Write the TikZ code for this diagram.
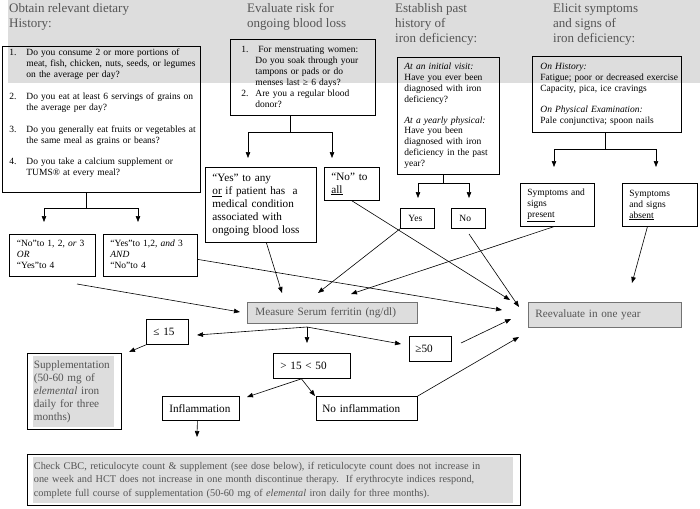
\documentclass[tikz,border=0pt]{standalone}
\usepackage{fontspec}
\setmainfont{Liberation Serif}
\usetikzlibrary{arrows.meta}
\definecolor{bandgray}{HTML}{DDDDDD}
\definecolor{textgray}{HTML}{555555}
\newcommand{\boxsmall}{\fontsize{9.5}{11}\selectfont}
\newcommand{\boxmid}{\fontsize{11.2}{13}\selectfont}
\newcommand{\boxhead}{\fontsize{13}{15}\selectfont}
\newcommand{\boxlines}[1]{\begin{tabular}{@{}l@{}}#1\end{tabular}}
\begin{document}
\begin{tikzpicture}[x=1pt,y=-1pt,
  box/.style n args={3}{draw,line width=0.8pt,anchor=north west,align=left,
    inner ysep=0pt,text width=#1,minimum height=#2,inner xsep=#3},
  graybox/.style={fill=bandgray,draw=black!55,text=textgray},
  shadebox/.style={text=textgray,path picture={\fill[bandgray]
    ([xshift=6pt,yshift=-3pt]path picture bounding box.north west) rectangle
    ([xshift=-7pt,yshift=2pt]path picture bounding box.south east);}},
  head/.style={anchor=north west,align=left,inner sep=0pt,text=textgray,font=\boxhead},
  ln/.style={line width=0.6pt},
  arr/.style={ln,-{Triangle[length=6pt,width=4.5pt]}}]
\useasboundingbox (0,0) rectangle (700,508);
\fill[bandgray] (8,0) rectangle (700,83);

% column heads
\node[head] (head1) at (9,3.5) {Obtain relevant dietary\\History:};
\node[head] (head2) at (247,3.5) {Evaluate risk for\\ongoing blood loss};
\node[head] (head3) at (395,3.5) {Establish past\\history of\\iron deficiency:};
\node[head] (head4) at (553,3.5) {Elicit symptoms\\and signs of\\iron deficiency:};

% question boxes
\node[box={184pt}{146pt}{7pt},font=\boxsmall] (diet) at (2,46) {%
  \begin{tabular}{@{}p{17pt}@{}l@{}}
  1. & Do you consume 2 or more portions of\\
     & meat, fish, chicken, nuts, seeds, or legumes\\
     & on the average per day?\\[10.5pt]
  2. & Do you eat at least 6 servings of grains on\\
     & the average per day?\\[10.5pt]
  3. & Do you generally eat fruits or vegetables at\\
     & the same meal as grains or beans?\\[10.5pt]
  4. & Do you take a calcium supplement or\\
     & TUMS® at every meal?\rule[-15pt]{0pt}{1pt}
  \end{tabular}};
\node[box={123pt}{76pt}{11pt},font=\boxsmall] (blood) at (230,39) {%
  \begin{tabular}{@{}p{14pt}@{}l@{}}
  1. & \hspace{3pt}For menstruating women:\\
     & Do you soak through your\\
     & tampons or pads or do\\
     & menses last ≥ 6 days?\\
  2. & Are you a regular blood\\
     & donor?
  \end{tabular}};
\node[box={88pt}{117pt}{7pt},font=\fontsize{9.5}{10.8}\selectfont] (past) at (397,57) {%
  \boxlines{\textit{At an initial visit:}\\ Have you ever been\\ diagnosed with iron\\
  deficiency?\\[10pt] \textit{At a yearly physical:}\\ Have you been\\
  diagnosed with iron\\ deficiency in the past\\ year?}};
\node[box={133pt}{76pt}{8pt},font=\boxsmall] (symp) at (532,56) {%
  \boxlines{\textit{On History:}\\ Fatigue; poor or decreased exercise\\
  Capacity, pica, ice cravings\\[10pt] \textit{On Physical Examination:}\\
  Pale conjunctiva; spoon nails}};

% answers
\node[box={71pt}{42pt}{7.5pt},font=\boxsmall] (noA) at (9,234)
  {\boxlines{“No”to 1, 2, \textit{or} 3\\ \textit{OR}\\ “Yes”to 4}};
\node[box={80pt}{42pt}{7pt},font=\boxsmall] (yesA) at (103,234)
  {\boxlines{“Yes”to 1,2, \textit{and} 3\\ \textit{AND}\\ “No”to 4}};
\node[box={97pt}{75pt}{7pt},font=\boxmid] (yesAny) at (205,167)
  {\boxlines{“Yes” to any\\ \underline{or} if patient has\ \ a\\ medical condition\\
  associated with\\ ongoing blood loss}};
\node[box={41pt}{33pt}{7pt},font=\boxmid] (noAll) at (324,167)
  {\boxlines{“No” to\\ \underline{all}}};
\node[box={18pt}{20pt}{8pt},font=\boxsmall] (yesB) at (400,208) {Yes};
\node[box={18pt}{20pt}{8pt},font=\boxsmall] (noB) at (451,208) {No};
\node[box={60pt}{43pt}{7pt},font=\boxsmall] (present) at (520,183)
  {\boxlines{Symptoms and\\ signs\\ \underline{present}}};
\node[box={61pt}{43pt}{7pt},font=\boxsmall] (absent) at (622,183)
  {\boxlines{Symptoms\\ and signs\\ \underline{absent}}};

% ferritin and outcomes
\node[box={154pt}{21pt}{8pt},graybox,font=\boxmid] (ferr) at (247,302)
  {Measure Serum ferritin (ng/dl)};
\node[box={139pt}{25pt}{7pt},graybox,font=\boxmid] (reeval) at (528,302)
  {Reevaluate in one year};
\node[box={28pt}{25pt}{7pt},font=\boxmid] (le15) at (146,319) {≤ 15};
\node[box={30pt}{25pt}{6pt},font=\boxmid] (ge50) at (409,336) {≥50};
\node[box={63pt}{25pt}{7pt},font=\boxmid] (mid) at (273,353) {> 15 < 50};
\node[box={63pt}{24pt}{7pt},font=\boxmid] (infl) at (162,396) {Inflammation};
\node[box={89pt}{24pt}{6pt},font=\boxmid] (noInfl) at (316,396) {No inflammation};
\node[box={81pt}{76pt}{6.5pt},shadebox,font=\boxmid] (suppl) at (27,353)
  {\boxlines{Supplementation\\ (50-60 mg of\\ \textit{elemental} iron\\
  daily for three\\ months)}};
\node[box={480pt}{51pt}{6.5pt},shadebox,font=\fontsize{10.3}{13.5}\selectfont] (cbc) at (27,454)
  {\boxlines{Check CBC, reticulocyte count \& supplement (see dose below), if reticulocyte count does not increase in\\
  one week and HCT does not increase in one month discontinue therapy.\ \ If erythrocyte indices respond,\\
  complete full course of supplementation (50-60 mg of \textit{elemental} iron daily for three months).}};

% forks under the question boxes
\coordinate (dietfork) at (86,208);
\coordinate (noAtip) at (44,222);
\coordinate (yesAtip) at (138,222);
\coordinate (bloodfork) at (290,132);
\coordinate (yesAnytip) at (248,158);
\coordinate (noAlltip) at (332,158);
\coordinate (pastfork) at (443,183);
\coordinate (yesBtip) at (418,198);
\coordinate (noBtip) at (469,198);
\coordinate (sympfork) at (605,149);
\coordinate (presenttip) at (554,167);
\coordinate (absenttip) at (656,167);
\draw[ln] (diet.south -| dietfork) -- (dietfork);
\draw[arr] (dietfork) -| (noAtip);
\draw[arr] (dietfork) -| (yesAtip);
\draw[ln] (blood.south -| bloodfork) -- (bloodfork);
\draw[arr] (bloodfork) -| (yesAnytip);
\draw[arr] (bloodfork) -| (noAlltip);
\draw[ln] (past.south -| pastfork) -- (pastfork);
\draw[arr] (pastfork) -| (yesBtip);
\draw[arr] (pastfork) -| (noBtip);
\draw[ln] (symp.south -| sympfork) -- (sympfork);
\draw[arr] (sympfork) -| (presenttip);
\draw[arr] (sympfork) -| (absenttip);

% loose ends
\coordinate (noAout) at (77,284);
\coordinate (noBout) at (469,234);
\coordinate (ge50out) at (461,343);
\coordinate (ferrtipA) at (240,312);
\coordinate (ferrtipB) at (282,293);
\coordinate (ferrtipC) at (318,293);
\coordinate (ferrtipD) at (351,294);
\coordinate (reevtipA) at (510,300);
\coordinate (reevtipB) at (519,307);
\coordinate (reevtipC) at (502,310);
\coordinate (reevtipD) at (511,319);
\coordinate (reevtipE) at (519,337);
\coordinate (reevtipF) at (632,283);
\coordinate (ferrfork) at (307,327);
\coordinate (le15tip) at (197,335);
\coordinate (midtip) at (307,343);
\coordinate (ge50tip) at (401,344);
\coordinate (suppltip) at (129,352);
\coordinate (infltip) at (247,397);
\coordinate (noInfltip) at (315,396);
\coordinate (cbctip) at (197,437);

% to ferritin
\draw[arr] (noAout) -- (ferrtipA);
\draw[arr] ([xshift=5.5pt]yesAny.south) -- (ferrtipB);
\draw[arr] (yesB.south west) -- (ferrtipC);
\draw[arr] ([xshift=-4pt]present.south) -- (ferrtipD);
% to reevaluate
\draw[arr] (noAll.south) -- (reevtipA);
\draw[arr] (noBout) -- (reevtipB);
\draw[arr] ([yshift=-4pt]yesA.east) -- (reevtipC);
\draw[arr] (ge50out) -- (reevtipD);
\draw[arr] (noInfl.north east) -- (reevtipE);
\draw[arr] ([xshift=-12.5pt]absent.south) -- (reevtipF);
% ferritin results
\draw[arr] (ferrfork) -- (le15tip);
\draw[arr] (ferrfork) -- (midtip);
\draw[arr] (ferrfork) -- (ge50tip);
\draw[arr] (le15.south west) -- (suppltip);
\draw[arr] ([xshift=-10.5pt]mid.south) -- (infltip);
\draw[arr] ([xshift=-10.5pt]mid.south) -- (noInfltip);
\draw[arr] ([xshift=-3.5pt]infl.south) -- (cbctip);
\end{tikzpicture}
\end{document}
